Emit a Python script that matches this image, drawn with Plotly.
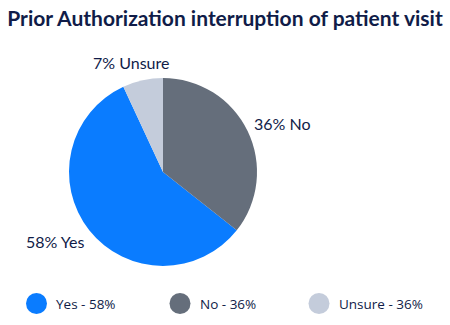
import math
import plotly.graph_objects as go

categories = ["Yes", "No", "Unsure"]
values = [58, 36, 7]
legend_pcts = [58, 36, 36]
colors = ["#0a7cff", "#656e7b", "#c4ccdb"]

W, H = 450, 325
NAVY = "#101c48"
FONT = "Lato"
LABEL_SIZE = 16

slice_text = [f"{v}% {c}" for c, v in zip(categories, values)]
legend_text = [f"{c} - {p}%" for c, p in zip(categories, legend_pcts)]

total = sum(values)
# counterclockwise: first slice (Yes) spans clockwise angles [rotation, rotation + share]
rotation = 360 * values[1] / total

cx, cy, r = 163, 172, 94
fig = go.Figure(go.Pie(
    labels=legend_text,
    values=values,
    textinfo="none",
    sort=False,
    direction="counterclockwise",
    rotation=rotation,
    marker=dict(colors=colors, line=dict(width=0)),
    showlegend=False,
    hoverinfo="label+percent",
    domain=dict(x=[(cx - r) / W, (cx + r) / W], y=[(H - cy - r) / H, (H - cy + r) / H]),
))

annotations = []
# outside slice labels placed along each slice's mid angle (clockwise from 12 o'clock)
starts = {}
acc = 0.0
for i in [1, 0, 2]:  # clockwise order from 12 o'clock: No, Yes, Unsure
    starts[i] = acc
    acc += values[i]
gap = 10
for i, t in enumerate(slice_text):
    mid = (starts[i] + values[i] / 2) / total * 2 * math.pi
    sx, sy = math.sin(mid), -math.cos(mid)
    px, py = cx + sx * (r + gap), cy + sy * (r + gap)
    w = len(t) * 0.6 * LABEL_SIZE
    h = LABEL_SIZE
    tx, ty = px + sx * w / 2, py + sy * h / 2
    annotations.append(dict(text=t, xref="paper", yref="paper",
                            x=tx / W, y=(H - ty) / H, xanchor="center", yanchor="middle",
                            showarrow=False,
                            font=dict(family=FONT, size=LABEL_SIZE, color=NAVY)))

shapes = []
leg_cx = [36.5, 180, 319]
leg_y = 303.5
rad = 10.5
for i, t in enumerate(legend_text):
    x0 = leg_cx[i]
    shapes.append(dict(type="circle", xref="paper", yref="paper",
                       x0=(x0 - rad) / W, x1=(x0 + rad) / W,
                       y0=(H - leg_y - rad) / H, y1=(H - leg_y + rad) / H,
                       fillcolor=colors[i], line=dict(width=0)))
    annotations.append(dict(text=t, xref="paper", yref="paper",
                            x=(x0 + rad + 7) / W, y=(H - leg_y) / H,
                            xanchor="left", yanchor="middle", showarrow=False,
                            font=dict(family="Open Sans", size=13.5, color=NAVY)))

fig.update_layout(
    width=W, height=H,
    margin=dict(l=0, r=0, t=0, b=0),
    paper_bgcolor="white", plot_bgcolor="white",
    title=dict(text="<b>Prior Authorization interruption of patient visit</b>",
               x=0.5, xanchor="center", y=1 - 19 / H, yanchor="middle",
               font=dict(family=FONT, size=21, color=NAVY)),
    shapes=shapes,
    annotations=annotations,
)

fig.write_html("out.html")
